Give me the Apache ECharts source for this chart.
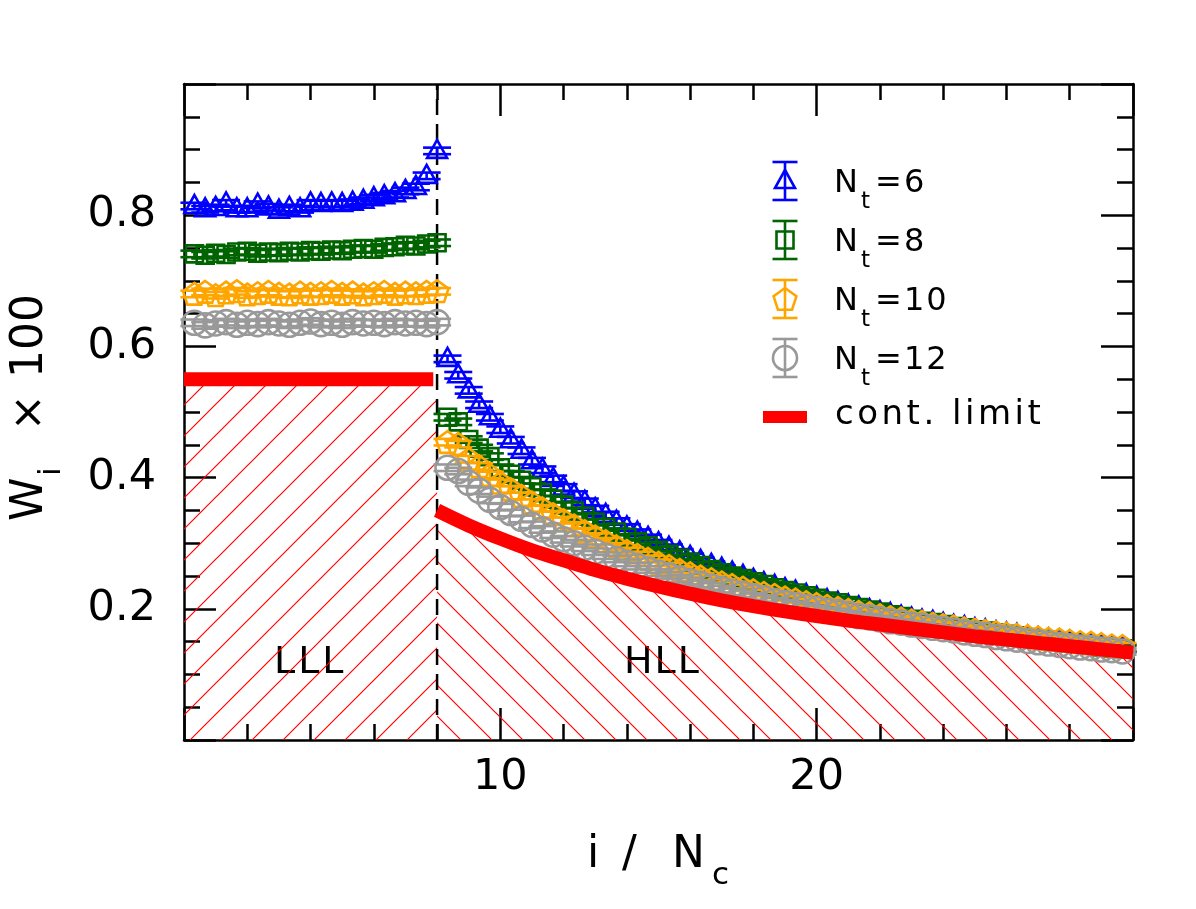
<!DOCTYPE html>
<html>
<head>
<meta charset="utf-8">
<script src="https://cdn.jsdelivr.net/npm/echarts@6/dist/echarts.min.js"></script>
<style>
  html, body { margin: 0; padding: 0; background: #fff; }
  #chart { width: 1196px; height: 909px; }
</style>
</head>
<body>
<div id="chart"></div>
<script>
// i / N_c positions of the measured points (step 1/3)
var iOverNc = [
  0.33,0.67,1,1.33,1.67,2,2.33,2.67,3,3.33,3.67,4,4.33,4.67,5,5.33,5.67,6,6.33,6.67,7,7.33,7.67,8,
  8.33,8.67,9,9.33,9.67,10,10.33,10.67,11,11.33,11.67,12,12.33,12.67,13,13.33,13.67,14,14.33,14.67,15,
  15.33,15.67,16,16.33,16.67,17,17.33,17.67,18,18.33,18.67,19,19.33,19.67,20,20.33,20.67,21,21.33,21.67,22,
  22.33,22.67,23,23.33,23.67,24,24.33,24.67,25,25.33,25.67,26,26.33,26.67,27,27.33,27.67,28,28.33,28.67,29,29.33,29.67
];

// W_i x 100 for each N_t
var wNt6 = [
  0.814,0.809,0.811,0.818,0.809,0.809,0.816,0.812,0.807,0.811,0.809,0.818,0.817,0.818,0.817,0.819,0.822,0.826,0.829,0.832,0.837,0.843,0.860,0.898,
  0.581,0.556,0.533,0.511,0.492,0.473,
  0.457,0.441,0.425, 0.412,0.398,0.385, 0.374,0.363,0.352, 0.343,0.333,0.324, 0.316,0.308,0.300,
  0.293,0.286,0.279, 0.273,0.267,0.261, 0.255,0.250,0.244, 0.239,0.235,0.230, 0.226,0.221,0.217,
  0.213,0.209,0.205, 0.202,0.198,0.195, 0.192,0.188,0.185, 0.182,0.180,0.177, 0.174,0.172,0.169,
  0.167,0.164,0.162, 0.160,0.157,0.155, 0.153,0.151,0.149, 0.147,0.145,0.143, 0.141,0.140
];
var wNt8 = [
  0.741,0.739,0.742,0.740,0.744,0.745,0.742,0.744,0.743,0.745,0.744,0.746,0.745,0.747,0.746,0.748,0.749,0.748,0.751,0.752,0.754,0.753,0.756,0.758,
  0.492,0.485,0.458,0.445,0.432,0.415,
  0.405,0.396,0.386, 0.377,0.367,0.358, 0.349,0.341,0.332, 0.324,0.317,0.309, 0.302,0.296,0.289,
  0.283,0.277,0.271, 0.266,0.260,0.255, 0.250,0.246,0.241, 0.237,0.232,0.228, 0.224,0.220,0.216,
  0.212,0.209,0.205, 0.202,0.198,0.195, 0.191,0.188,0.184, 0.181,0.179,0.176, 0.173,0.171,0.168,
  0.166,0.163,0.161, 0.159,0.156,0.154, 0.152,0.150,0.148, 0.146,0.144,0.142, 0.140,0.139
];
var wNt10 = [
  0.680,0.683,0.678,0.682,0.684,0.679,0.681,0.683,0.680,0.679,0.682,0.680,0.681,0.683,0.680,0.682,0.679,0.681,0.683,0.680,0.682,0.681,0.683,0.684,
  0.454,0.451,0.428,0.417,0.404,0.392,
  0.382,0.372,0.362, 0.353,0.344,0.335, 0.327,0.318,0.310, 0.303,0.295,0.288, 0.282,0.276,0.270,
  0.265,0.259,0.254, 0.249,0.245,0.240, 0.236,0.232,0.228, 0.224,0.221,0.217, 0.214,0.210,0.207,
  0.204,0.201,0.198, 0.195,0.193,0.190, 0.187,0.185,0.182, 0.180,0.177,0.175, 0.173,0.170,0.168,
  0.166,0.164,0.162, 0.160,0.158,0.156, 0.154,0.153,0.151, 0.149,0.148,0.146, 0.144,0.143
];
var wNt12 = [
  0.636,0.632,0.635,0.637,0.633,0.636,0.634,0.637,0.635,0.633,0.636,0.638,0.634,0.636,0.633,0.637,0.635,0.636,0.634,0.637,0.635,0.636,0.634,0.637,
  0.415,0.410,0.392,0.380,0.366,0.355,
  0.346,0.337,0.328, 0.321,0.313,0.306, 0.300,0.293,0.287, 0.281,0.276,0.270, 0.265,0.260,0.255,
  0.251,0.246,0.242, 0.238,0.234,0.230, 0.226,0.223,0.219, 0.216,0.212,0.209, 0.206,0.203,0.200,
  0.197,0.195,0.192, 0.189,0.187,0.184, 0.181,0.179,0.176, 0.174,0.171,0.169, 0.167,0.164,0.162,
  0.160,0.157,0.155, 0.153,0.151,0.149, 0.147,0.145,0.143, 0.141,0.140,0.138, 0.137,0.135
];
// statistical error (small, nearly constant)
var errNt = [0.005, 0.005, 0.005, 0.005];

// continuum limit
var contLLLx = [0, 7.88];
var contLLLw = [0.55, 0.55];
var contHLLx = [8,9,10,11,12,13,14,15,16,17,18,19,20,21,22,23,24,25,26,27,28,29,30];
var contHLLw = [0.350,0.327,0.307,0.289,0.274,0.259,0.246,0.234,0.223,0.213,0.204,0.196,0.189,0.182,0.176,0.170,0.164,0.158,0.153,0.148,0.143,0.138,0.133];

var FONT = 'DejaVu Sans';
var colors = ['#0000ff', '#006400', '#ffa500', '#999999'];
var shapes = ['triangle', 'square', 'pentagon', 'circle'];
var names = ['6', '8', '10', '12'];
var LW = 2.6;

function pairs(xs, ys) {
  return ys.map(function (v, i) { return [xs[i], v]; });
}

function hatch(dir) {
  var s = 31, cv = document.createElement('canvas');
  cv.width = s; cv.height = s;
  var ctx = cv.getContext('2d');
  ctx.strokeStyle = '#ff0000';
  ctx.lineWidth = 1.2;
  ctx.beginPath();
  for (var k = -1; k <= 1; k++) {
    if (dir > 0) { ctx.moveTo(k * s - 1, s + 1); ctx.lineTo(k * s + s + 1, -1); }
    else { ctx.moveTo(k * s - 1, -1); ctx.lineTo(k * s + s + 1, s + 1); }
  }
  ctx.stroke();
  return cv;
}

function marker(shape, cx, cy, color) {
  var st = { fill: 'none', stroke: color, lineWidth: LW };
  if (shape === 'triangle') {
    return { type: 'polygon', shape: { points: [[cx, cy - 11], [cx + 10, cy + 7], [cx - 10, cy + 7]] }, style: st };
  }
  if (shape === 'square') {
    return { type: 'rect', shape: { x: cx - 8.5, y: cy - 8.5, width: 17, height: 17 }, style: st };
  }
  if (shape === 'pentagon') {
    var pts = [];
    for (var i = 0; i < 5; i++) {
      var a = -Math.PI / 2 + i * 2 * Math.PI / 5;
      pts.push([cx + 12 * Math.cos(a), cy + 1 + 12 * Math.sin(a)]);
    }
    return { type: 'polygon', shape: { points: pts }, style: st };
  }
  return { type: 'circle', shape: { cx: cx, cy: cy, r: 12 }, style: st };
}

function errBar(cx, yTop, yBot, capHalf, color) {
  var st = { stroke: color, lineWidth: LW };
  return [
    { type: 'line', shape: { x1: cx, y1: yTop, x2: cx, y2: yBot }, style: st },
    { type: 'line', shape: { x1: cx - capHalf, y1: yTop, x2: cx + capHalf, y2: yTop }, style: st },
    { type: 'line', shape: { x1: cx - capHalf, y1: yBot, x2: cx + capHalf, y2: yBot }, style: st }
  ];
}

function pointSeries(idx, values) {
  var color = colors[idx], shape = shapes[idx], err = errNt[idx];
  return {
    type: 'custom',
    name: 'Nt=' + names[idx],
    data: pairs(iOverNc, values),
    clip: false,
    z: 3,
    renderItem: function (params, api) {
      var x = api.value(0), y = api.value(1);
      var c = api.coord([x, y]);
      var top = api.coord([x, y + err])[1];
      var bot = api.coord([x, y - err])[1];
      var ch = errBar(c[0], top, bot, 14, color);
      ch.push(marker(shape, c[0], c[1], color));
      return { type: 'group', children: ch };
    }
  };
}

var tickStyle = { color: '#000', width: 2.5 };
function xAx(pos, labels) {
  return {
    type: 'value', position: pos, min: 0, max: 30, interval: 10,
    axisLine: { show: true, onZero: false, lineStyle: tickStyle },
    axisTick: { show: true, inside: true, length: 32, lineStyle: tickStyle },
    minorTick: { show: true, splitNumber: 5, length: 16, lineStyle: tickStyle },
    splitLine: { show: false },
    axisLabel: {
      show: labels, margin: 16, color: '#000', fontSize: 43, fontFamily: FONT,
      formatter: function (v) { return (v > 0 && v < 30) ? String(v) : ''; }
    }
  };
}
function yAx(pos, labels) {
  return {
    type: 'value', position: pos, min: 0, max: 1, interval: 0.2,
    axisLine: { show: true, onZero: false, lineStyle: tickStyle },
    axisTick: { show: true, inside: true, length: 32, lineStyle: tickStyle },
    minorTick: { show: true, splitNumber: 4, length: 16, lineStyle: tickStyle },
    splitLine: { show: false },
    axisLabel: {
      show: labels, margin: 28, color: '#000', fontSize: 43, fontFamily: FONT,
      formatter: function (v) { return (v > 0.01 && v < 0.99) ? v.toFixed(1) : ''; }
    }
  };
}

function txt(x, y, s, size, align) {
  align = align || 'left';
  return {
    type: 'text', x: x, y: y,
    style: { text: s, fontSize: size, fontFamily: FONT, fill: '#000',
      align: align, verticalAlign: 'middle', textAlign: align, textVerticalAlign: 'middle' }
  };
}

// text with extra letter spacing, one element per character
var measureCtx = document.createElement('canvas').getContext('2d');
function spaced(x, y, str, size, gap) {
  measureCtx.font = size + "px '" + FONT + "'";
  var els = [], cx = x;
  for (var i = 0; i < str.length; i++) {
    var ch = str.charAt(i);
    if (ch !== ' ') els.push(txt(cx, y, ch, size));
    cx += measureCtx.measureText(ch).width + gap;
  }
  return els;
}

// legend built by hand: error-bar symbol + N_t label
var legendY = [181, 240, 299, 358];
var legendEls = [];
legendY.forEach(function (ly, i) {
  var sym = errBar(785, ly - 19, ly + 19, 12.5, colors[i]);
  sym.push(marker(shapes[i], 785, ly, colors[i]));
  legendEls = legendEls.concat(sym);
  legendEls.push(txt(834, ly + 3, 'N', 32));
  legendEls.push(txt(861, ly + 21, 't', 23));
  legendEls.push(txt(875, ly + 3, '=', 32));
  legendEls = legendEls.concat(spaced(904, ly + 3, names[i], 32, 2));
});
legendEls.push({ type: 'rect', shape: { x: 763, y: 411, width: 44, height: 12 }, style: { fill: '#ff0000' } });
legendEls = legendEls.concat(spaced(835, 415, 'cont. limit', 34, 3.5));

// region labels on white boxes
var regionEls = [
  { type: 'rect', shape: { x: 262, y: 641, width: 98, height: 44 }, style: { fill: '#fff' } },
  { type: 'rect', shape: { x: 613, y: 641, width: 100, height: 44 }, style: { fill: '#fff' } }
].concat(spaced(274, 663, 'LLL', 38, 3)).concat(spaced(624, 663, 'HLL', 38, 2));

var chart = echarts.init(document.getElementById('chart'));
chart.setOption({
  animation: false,
  backgroundColor: '#fff',
  grid: { left: 184, right: 63, top: 84, bottom: 169, containLabel: false },
  xAxis: [xAx('bottom', true), xAx('top', false)],
  yAxis: [yAx('left', true), yAx('right', false)],
  series: [
    {
      type: 'line', data: [[0, contLLLw[0]], [8, contLLLw[1]]],
      symbol: 'none', lineStyle: { width: 0 }, z: 1,
      areaStyle: { color: { image: hatch(1), repeat: 'repeat' }, opacity: 1 }
    },
    {
      type: 'line', data: pairs(contHLLx, contHLLw), smooth: 0.3,
      symbol: 'none', lineStyle: { width: 0 }, z: 1,
      areaStyle: { color: { image: hatch(-1), repeat: 'repeat' }, opacity: 1 }
    },
    {
      type: 'line', data: [[8, 0], [8, 1]], symbol: 'none', z: 2,
      lineStyle: { color: '#000', width: 2.5, type: [16, 9] }
    },
    pointSeries(0, wNt6),
    pointSeries(1, wNt8),
    pointSeries(2, wNt10),
    pointSeries(3, wNt12),
    {
      type: 'line', data: pairs(contLLLx, contLLLw), symbol: 'none', z: 4,
      lineStyle: { color: '#ff0000', width: 14, cap: 'butt' }
    },
    {
      type: 'line', data: pairs(contHLLx, contHLLw), smooth: 0.3, symbol: 'none', z: 4,
      lineStyle: { color: '#ff0000', width: 14, cap: 'butt' }
    }
  ],
  graphic: [
    { type: 'group', z: 10, children: regionEls },
    { type: 'group', z: 10, children: legendEls },
    // x axis title: i / N_c
    { type: 'group', children: [
      txt(587, 856, 'i', 44),
      txt(622, 856, '/', 44),
      txt(672, 856, 'N', 44),
      txt(712, 876, 'c', 31)
    ] },
    // y axis title: W_i x 100 (rotated)
    { type: 'group', x: 31, y: 413, rotation: Math.PI / 2, children: [
      txt(-108, 0, 'W', 44),
      txt(-63, 21, 'i', 31),
      txt(-18, 0, '\u00d7', 44),
      txt(35, 0, '100', 44)
    ] }
  ]
});
</script>
</body>
</html>
